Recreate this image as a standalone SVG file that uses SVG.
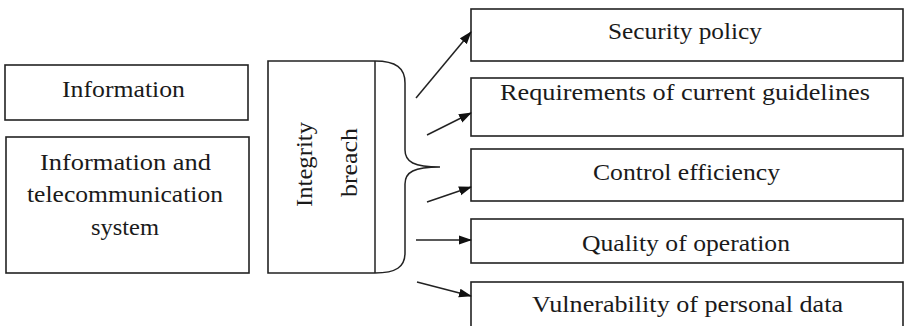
<svg xmlns="http://www.w3.org/2000/svg" width="904" height="326" viewBox="0 0 904 326">
<style>
.box{fill:#fff;stroke:#222;stroke-width:1.6}
.ln{fill:none;stroke:#222;stroke-width:1.5}
.t{font-family:"Liberation Serif","DejaVu Serif",serif;font-size:22.5px;fill:#1a1a1a;text-anchor:middle}
</style>
<defs>
<marker id="ah" markerUnits="userSpaceOnUse" markerWidth="14" markerHeight="10" refX="12" refY="5" orient="auto">
<path d="M0,0.5 L13,5 L0,9.5 Z" fill="#111"/>
</marker>
</defs>
<rect width="904" height="326" fill="#fff"/>
<g id="n-information">
<rect class="box" x="5" y="65" width="243" height="55"/>
<text class="t" x="123.5" y="97" textLength="123" lengthAdjust="spacingAndGlyphs">Information</text>
</g>
<g id="n-its">
<rect class="box" x="6" y="137" width="243" height="136"/>
<text class="t" x="125.5" y="170" textLength="171" lengthAdjust="spacingAndGlyphs">Information and</text>
<text class="t" x="125" y="202" textLength="196" lengthAdjust="spacingAndGlyphs">telecommunication</text>
<text class="t" x="125" y="235" textLength="68" lengthAdjust="spacingAndGlyphs">system</text>
</g>
<g id="n-integrity">
<path class="box" d="M375,61 L268,61 L268,273 L375,273"/>
<line class="ln" x1="375" y1="61" x2="375" y2="273"/>
<path class="ln" d="M375,61 C396,61 405,68 405,83 L405,150 C405,162 414,167 440,167 C414,167 405,172 405,184 L405,253 C405,267 396,273 375,273"/>
<text class="t" transform="translate(312 164.5) rotate(-90)" x="0" y="0" textLength="85" lengthAdjust="spacingAndGlyphs">Integrity</text>
<text class="t" transform="translate(357 162.5) rotate(-90)" x="0" y="0" textLength="69" lengthAdjust="spacingAndGlyphs">breach</text>
</g>
<g id="n-security">
<rect class="box" x="471" y="9" width="432" height="52"/>
<text class="t" x="685" y="39" textLength="154" lengthAdjust="spacingAndGlyphs">Security policy</text>
</g>
<g id="n-requirements">
<rect class="box" x="471" y="78" width="432" height="58"/>
<text class="t" x="685" y="100" textLength="370" lengthAdjust="spacingAndGlyphs">Requirements of current guidelines</text>
</g>
<g id="n-control">
<rect class="box" x="471" y="149" width="432" height="52"/>
<text class="t" x="686.5" y="180" textLength="187" lengthAdjust="spacingAndGlyphs">Control efficiency</text>
</g>
<g id="n-quality">
<rect class="box" x="471" y="219" width="432" height="44"/>
<text class="t" x="686" y="251" textLength="208" lengthAdjust="spacingAndGlyphs">Quality of operation</text>
</g>
<g id="n-vulnerability">
<rect class="box" x="471" y="282" width="432" height="60"/>
<text class="t" x="687.5" y="312" textLength="311" lengthAdjust="spacingAndGlyphs">Vulnerability of personal data</text>
</g>
<g id="connectors">
<line class="ln" x1="416" y1="98" x2="471" y2="32" marker-end="url(#ah)"/>
<line class="ln" x1="427" y1="135" x2="471" y2="113" marker-end="url(#ah)"/>
<line class="ln" x1="427" y1="202" x2="471" y2="187" marker-end="url(#ah)"/>
<line class="ln" x1="416" y1="240" x2="471" y2="240" marker-end="url(#ah)"/>
<line class="ln" x1="417" y1="282" x2="471" y2="296" marker-end="url(#ah)"/>
</g>
</svg>
